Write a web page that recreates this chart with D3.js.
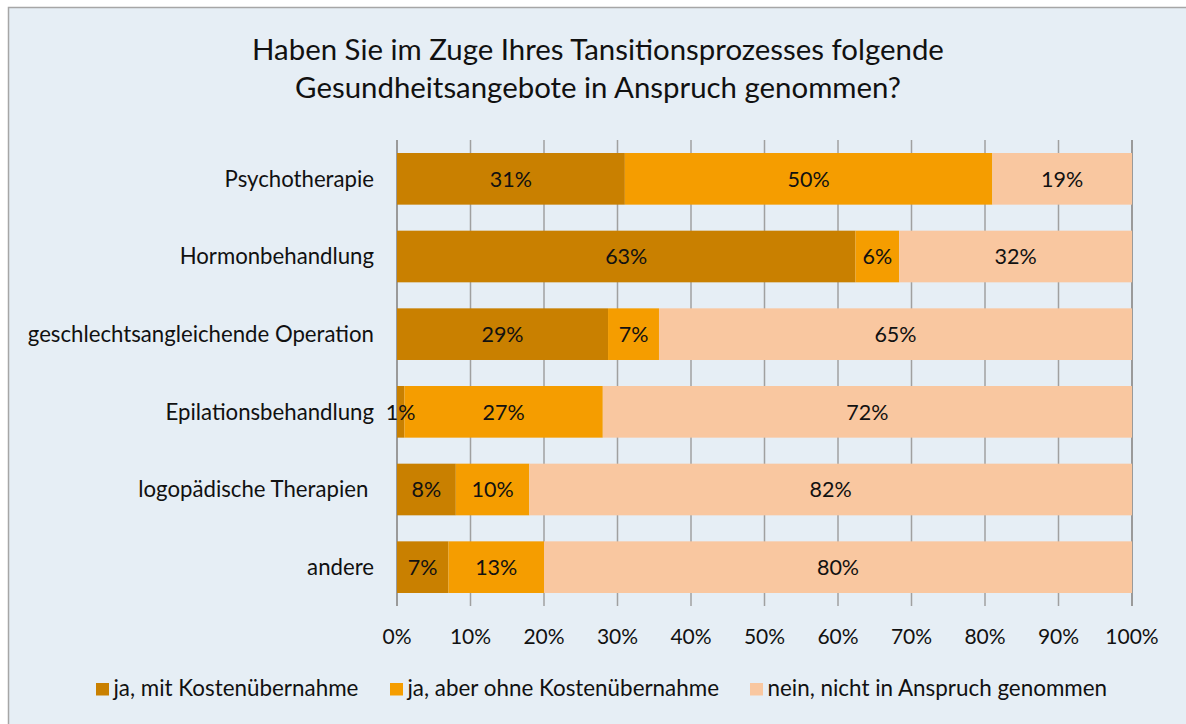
<!DOCTYPE html>
<html>
<head>
<meta charset="utf-8">
<script src="https://cdn.jsdelivr.net/npm/d3@7"></script>
<style>
  body { margin: 0; background: #ffffff; }
  svg { display: block; }
  text { font-family: Lato, "Open Sans", sans-serif; fill: #111; white-space: pre; }
</style>
</head>
<body>
<svg id="chart" width="1186" height="724"></svg>
<script>
// Survey answers per health service (percent of respondents)
const categories = [
  "Psychotherapie",
  "Hormonbehandlung",
  "geschlechtsangleichende Operation",
  "Epilationsbehandlung",
  "logopädische Therapien ",
  "andere"
];
const seriesNames = [
  "ja, mit Kostenübernahme",
  "ja, aber ohne Kostenübernahme",
  "nein, nicht in Anspruch genommen"
];
const mitKosten  = [31, 63, 29, 1, 8, 7];
const ohneKosten = [50, 6, 7, 27, 10, 13];
const nein       = [19, 32, 65, 72, 82, 80];
const tickValues = [0, 0.1, 0.2, 0.3, 0.4, 0.5, 0.6, 0.7, 0.8, 0.9, 1.0];
const titleLines = [
  "Haben Sie im Zuge Ihres Tansitionsprozesses folgende",
  "Gesundheitsangebote in Anspruch genommen?"
];
const colors = ["#C98000", "#F59D00", "#F9C7A0"];

const svg = d3.select("#chart");
const W = 1186, H = 724;

// chart frame
svg.append("rect")
  .attr("x", 8.5).attr("y", 7.5)
  .attr("width", W + 10).attr("height", H + 10)
  .attr("fill", "#E6EEF5")
  .attr("stroke", "#A6A6A6").attr("stroke-width", 1.5);

// title
svg.append("g").selectAll("text")
  .data(titleLines).join("text")
  .attr("x", 598).attr("y", (d, i) => 59.5 + i * 38)
  .attr("text-anchor", "middle")
  .attr("font-size", 29.4)
  .text(d => d);

const plot = { left: 397, right: 1132, top: 140, bottom: 606 };

const rows = categories.map((c, i) => ({
  cat: c, s0: mitKosten[i], s1: ohneKosten[i], s2: nein[i]
}));
const keys = ["s0", "s1", "s2"];
const stacked = d3.stack().keys(keys).offset(d3.stackOffsetExpand)(rows);

const x = d3.scaleLinear().domain([0, 1]).range([plot.left, plot.right]);
const y = d3.scaleBand().domain(categories)
  .range([plot.top, plot.bottom]).paddingInner(0.335).paddingOuter(0.1675);

// vertical gridlines
svg.append("g").selectAll("line")
  .data(tickValues).join("line")
  .attr("x1", d => x(d)).attr("x2", d => x(d))
  .attr("y1", plot.top).attr("y2", plot.bottom)
  .attr("stroke", d => (d === 0 || d === 1) ? "#9A9A9A" : "#A0A0A0")
  .attr("stroke-width", d => (d === 0 || d === 1) ? 2 : 1.5);

// stacked bars
const layers = svg.append("g").selectAll("g")
  .data(stacked).join("g")
  .attr("fill", (d, i) => colors[i]);

layers.selectAll("rect")
  .data(d => d.map(p => ({ p, cat: p.data.cat })))
  .join("rect")
  .attr("x", d => x(d.p[0]))
  .attr("width", d => x(d.p[1]) - x(d.p[0]))
  .attr("y", d => y(d.cat))
  .attr("height", y.bandwidth());

// value labels
const lab = svg.append("g");
stacked.forEach((layer, li) => {
  lab.selectAll(null)
    .data(layer).join("text")
    .attr("x", d => (x(d[0]) + x(d[1])) / 2)
    .attr("y", d => y(d.data.cat) + y.bandwidth() / 2)
    .attr("dy", "0.36em")
    .attr("text-anchor", "middle")
    .attr("font-size", 21.5)
    .text(d => d.data[keys[li]] + "%");
});

// category axis labels
svg.append("g").selectAll("text")
  .data(categories).join("text")
  .attr("x", 374)
  .attr("y", d => y(d) + y.bandwidth() / 2)
  .attr("dy", "0.36em")
  .attr("text-anchor", "end")
  .attr("font-size", 22.2)
  .text(d => d);

// value axis tick labels
svg.append("g").selectAll("text")
  .data(tickValues).join("text")
  .attr("x", d => x(d))
  .attr("y", 644)
  .attr("text-anchor", "middle")
  .attr("font-size", 21)
  .text(d => d3.format(".0%")(d));

// legend
const legendX = [96, 390, 750];
const leg = svg.append("g").selectAll("g")
  .data(seriesNames).join("g")
  .attr("transform", (d, i) => `translate(${legendX[i]},683)`);
leg.append("rect").attr("width", 13).attr("height", 12.5)
  .attr("fill", (d, i) => colors[i]);
leg.append("text").attr("x", 17.5).attr("y", 12.5)
  .attr("font-size", 22.4)
  .text(d => d);
</script>
</body>
</html>
